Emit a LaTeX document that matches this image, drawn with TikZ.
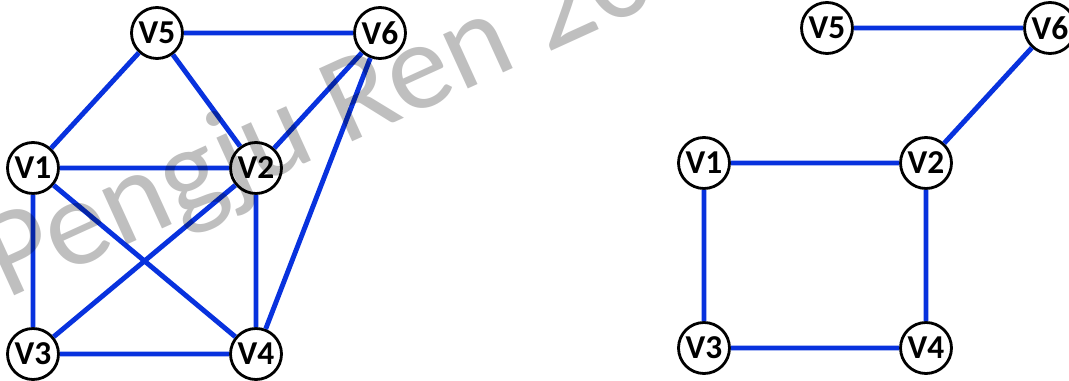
\documentclass[tikz,border=0pt]{standalone}
\usepackage{fontspec}
\setmainfont{Carlito}
\usepackage{tikz}
\usetikzlibrary{positioning}

\definecolor{edgeblue}{RGB}{8,50,222}

\begin{document}
\begin{tikzpicture}[x=0.02cm, y=-0.02cm,
    vertex/.style={circle, draw=black, line width=1.6pt, fill=white,
        minimum size=1.02cm, inner sep=0pt,
        font=\fontsize{19}{22}\selectfont\bfseries},
    edge/.style={draw=edgeblue, line width=2.8pt}]
    \useasboundingbox (0,0) rectangle (1069,381);

    % full graph
    \node[vertex] (l5) at (157,33) {V5};
    \node[vertex] (l6) at (380,33) {V6};
    \node[vertex] (l1) at (33,168) {V1};
    \node[vertex] (l2) at (256,168) {V2};
    \node[vertex] (l3) at (33,354) {V3};
    \node[vertex] (l4) at (256,354) {V4};
    \draw[edge]
        (l5) -- (l6)
        (l5) -- (l1)
        (l5) -- (l2)
        (l6) -- (l2)
        (l6) -- (l4)
        (l1) -- (l2)
        (l1) -- (l3)
        (l1) -- (l4)
        (l2) -- (l3)
        (l2) -- (l4)
        (l3) -- (l4);

    % spanning tree
    \node[vertex] (r5) at (827,28) {V5};
    \node[vertex] (r6) at (1050,28) {V6};
    \node[vertex] (r1) at (704,163) {V1};
    \node[vertex] (r2) at (926,163) {V2};
    \node[vertex] (r3) at (704,348) {V3};
    \node[vertex] (r4) at (926,348) {V4};
    \draw[edge]
        (r5) -- (r6)
        (r6) -- (r2)
        (r1) -- (r2)
        (r1) -- (r3)
        (r2) -- (r4)
        (r3) -- (r4);

    % watermark
    \node[rotate=24.5, anchor=base west, inner sep=0pt, text=black,
        text opacity=0.25, font=\fontsize{71}{80}\selectfont]
        (mark) at (6,300) {Pengju Ren 2018};
\end{tikzpicture}
\end{document}
